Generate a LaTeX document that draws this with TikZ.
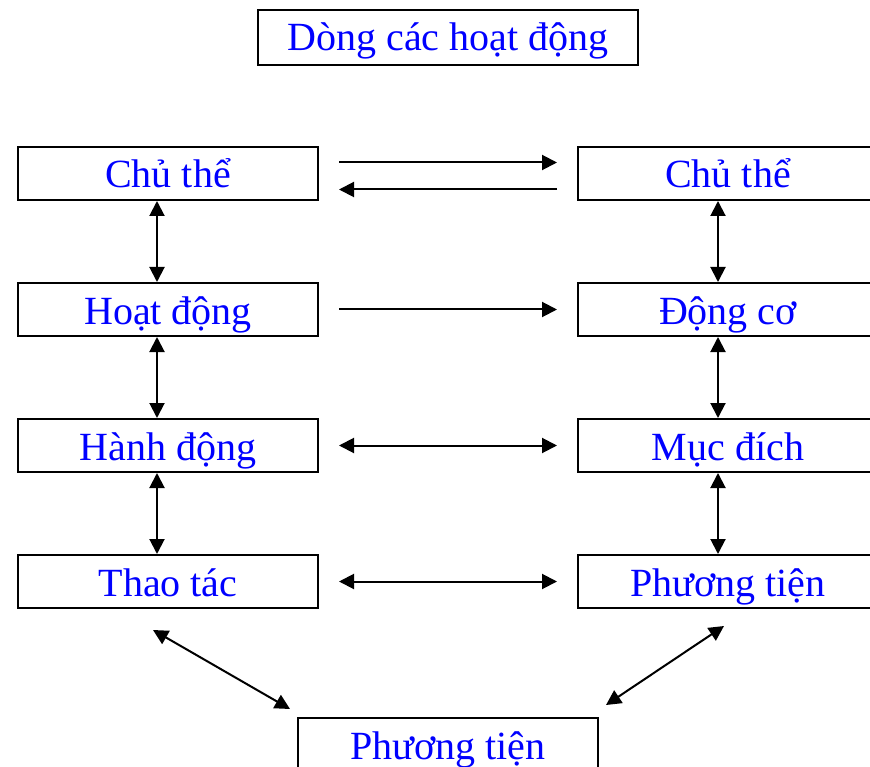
\documentclass[tikz,border=0pt]{standalone}
\usepackage{fontspec}
\setmainfont{Liberation Serif}
\usetikzlibrary{arrows.meta,calc}
\definecolor{labelblue}{RGB}{0,0,255}
\begin{document}
\begin{tikzpicture}[x=1pt,y=-1pt,
  box/.style={draw=black,line width=2pt,fill=white,anchor=north west,
    minimum width=300pt,inner xsep=0pt,inner ysep=0pt,
    text height=41pt,text depth=12pt,text=labelblue,
    font=\fontsize{40}{48}\selectfont},
  tip/.style={Triangle[length=15pt,width=15pt]},
  link/.style={line width=2pt,-{Triangle[length=15pt,width=15pt]}},
  both/.style={line width=2pt,{Triangle[length=15pt,width=15pt]}-{Triangle[length=15pt,width=15pt]}},
  gap/.style={shorten <=20pt,shorten >=20pt}]
\clip (0,0) rectangle (870,767);
\fill[white] (0,0) rectangle (870,767);

% title
\node[box,minimum width=380pt,text depth=14pt] (title) at (257,9) {Dòng các hoạt động};

% left column
\node[box] (l1) at (17,146) {Chủ thể};
\node[box] (l2) at (17,282) {Hoạt động};
\node[box] (l3) at (17,418) {Hành động};
\node[box] (l4) at (17,554) {Thao tác};

% right column
\node[box] (r1) at (577,146) {Chủ thể};
\node[box] (r2) at (577,282) {Động cơ};
\node[box] (r3) at (577,418) {Mục đích};
\node[box] (r4) at (577,554) {Phương tiện};

% bottom
\node[box] (b) at (297,717) {Phương tiện};

% vertical links
\foreach \u/\v in {l1/l2,l2/l3,l3/l4}
  \draw[both] ([xshift=-11pt]\u.south) -- ([xshift=-11pt]\v.north);
\foreach \u/\v in {r1/r2,r2/r3,r3/r4}
  \draw[both] ([xshift=-10pt]\u.south) -- ([xshift=-10pt]\v.north);

% horizontal links
\draw[link,gap] ([yshift=11pt]l1.east) -- ([yshift=11pt]l1.east -| r1.west);
\draw[link,gap] ([yshift=-16pt]r1.west) -- ([yshift=-16pt]r1.west -| l1.east);
\draw[link,gap] (l2.east) -- (l2.east -| r2.west);
\draw[both,gap] (l3.east) -- (l3.east -| r3.west);
\draw[both,gap] (l4.east) -- (l4.east -| r4.west);

% diagonal links
\draw[both] ($(l4.south)+(-15,21)$) -- ($(b.north west)+(-7,-8)$);
\draw[both] ($(r4.south)+(-4,17)$) -- ($(b.north east)+(7,-12)$);
\end{tikzpicture}
\end{document}
